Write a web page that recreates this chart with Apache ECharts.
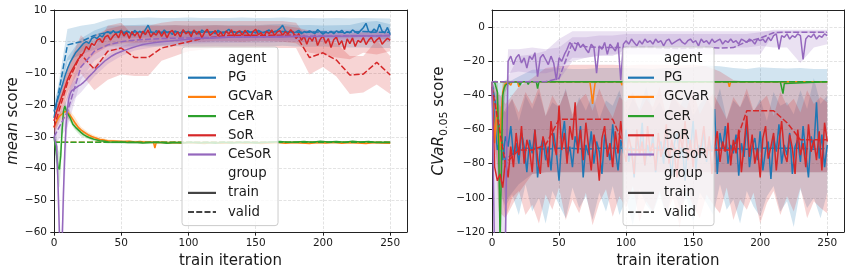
<!DOCTYPE html>
<html><head><meta charset="utf-8">
<script src="https://cdn.jsdelivr.net/npm/echarts@6/dist/echarts.min.js"></script>
<style>html,body{margin:0;padding:0;background:#fff}#c{width:854px;height:275px}</style>
</head><body><div id="c"></div>
<script>
// ---------- axes / ticks ----------
const X_TICKS = [0, 50, 100, 150, 200, 250];
const Y_L_TICKS = [-60, -50, -40, -30, -20, -10, 0, 10];
const Y_R_TICKS = [-120, -100, -80, -60, -40, -20, 0];
const LEGEND_LABELS = ['agent', 'PG', 'GCVaR', 'CeR', 'SoR', 'CeSoR', 'group', 'train', 'valid'];
const AGENTS = ['PG', 'GCVaR', 'CeR', 'SoR', 'CeSoR'];

// iteration grids (x positions of logged values)
const IT2 = Array.from({length: 126}, (_, i) => 2 * i);
const IT5 = Array.from({length: 51}, (_, i) => 5 * i);
const IT10 = Array.from({length: 26}, (_, i) => 10 * i);

// ================= LEFT: mean score =================
const PG_L_TRAIN = [
 -22,-19,-16.5,-14,-11,-8.5,-6.5,-5,-3.5,-2.5,
 -1.5,-0.5,0,-0.5,1,1.5,1,2,1.5,2.8,
 3.2,2.5,3.5,2.6,3.1,3.6,2.4,3.4,3,2.2,
 3.6,2.8,3.3,2.5,3.8,5.2,3.2,2.4,3.5,3,
 2.6,3.7,2.8,3.2,2.3,3.4,3,2.7,3.6,2.9,
 3.3,2.6,3.5,3.1,2.4,3.7,3,3.4,2.8,3.2,
 2.5,3.6,3,2.7,3.3,3.9,2.9,3.2,2.6,3.4,
 3,2.8,3.5,2.9,3.2,2.7,3.6,3.1,2.8,3.3,
 3.7,2.9,3.2,3.5,4.2,5.2,3.4,2.9,3.3,2.7,
 3.1,3.6,2.5,3.2,2.9,3.4,3,2.6,3.8,3.1,
 2.4,3,2.7,3.3,2.5,3.4,2.9,3.6,2.6,3.2,
 2.8,3.7,3.1,2.6,3.5,4.4,5.8,3.2,2.9,4,
 3.1,5.5,3.3,2.8,4.5,2.2];
const PG_L_TR_LO = [-25,-12,-3.5,-0.5,1,1.3,1.2,1.3,1.2,1.3,1.2,1.3,1.2,1.3,1.2,1.3,1.4,1.3,1.2,1.3,1.2,1.1,1.2,1.5,1.3,0.5];
const PG_L_TR_HI = [-19,-5,1,3.5,5,5.2,5.3,5.4,5.2,5.3,5.1,5.2,5.3,5.2,5.3,5.2,5.4,5.6,5.2,5.3,5.1,5.2,5.3,6.2,6.5,5.5];
const PG_L_VAL = [-24,-1,0,2,3,3,3.1,3,3,3.1,3,3,3.1,3,3,3.1,3,3.2,3,3,3.1,3,3,3.2,3,3];
const PG_L_VAL_LO = [-26,-6,-4,-2.5,-1.5,-1.5,-1.4,-1.5,-1.5,-1.4,-1.5,-1.5,-1.4,-1.5,-1.5,-1.4,-1.5,-1.3,-1.5,-1.6,-1.5,-1.7,-1.8,-1.8,-2,-2];
const PG_L_VAL_HI = [-22,4,5,5.7,7,7.5,7.5,7.6,7.5,7.5,7.6,7.5,7.5,7.5,7.6,7.5,7.5,7.6,7.5,7.5,7.4,7.5,7.4,7.5,7.4,7.3];

const GCV_L_X = [0,2,4,6,8,10,12,14,16,18,20,22,24,26,28,30,32,34,36,38,40,44,48,52,56,60,64,68,72,74,75,76,80,85,90,95,100,106,112,118,124,130,136,142,148,154,160,166,172,178,184,190,196,202,208,214,220,226,232,238,244,250];
const GCV_L_Y = [-27,-25,-23.5,-22.8,-22,-22.2,-23.2,-24.5,-25.8,-27,-27.8,-28.4,-29,-29.5,-29.9,-30.2,-30.5,-30.8,-30.9,-31.1,-31.2,-31.3,-31.4,-31.5,-31.4,-31.6,-31.5,-31.7,-31.6,-31.7,-33.5,-31.8,-31.7,-31.9,-31.8,-32,-31.8,-31.9,-32.1,-31.8,-32,-31.9,-31.7,-32,-31.8,-32.1,-31.9,-31.7,-32,-31.8,-31.9,-32.1,-31.8,-31.9,-31.7,-32,-31.8,-31.9,-32.1,-31.8,-31.9,-32];
const GCV_L_BX = [0,5,10,15,20,25,30,40,50,75,100,150,200,250];
const GCV_L_TR_LO = [-28.5,-25,-24,-26.5,-29,-30.3,-31,-31.7,-31.9,-32.2,-32.2,-32.2,-32.2,-32.2];
const GCV_L_TR_HI = [-25.5,-22,-20.8,-23.5,-26.8,-28.5,-29.6,-30.8,-31.1,-31.3,-31.4,-31.4,-31.4,-31.4];
const GCV_L_VAL = [-31.7,-31.7,-31.7,-31.7,-31.7,-31.7,-31.7,-31.7,-31.7,-31.7,-31.7,-31.7,-31.7,-31.7,-31.7,-31.7,-31.7,-31.7,-31.7,-31.7,-31.7,-31.7,-31.7,-31.7,-31.7,-31.7];

const CER_L_X = [0,1,2,3,4,5,6,7,8,9,10,12,14,16,18,20,22,24,26,28,30,32,34,36,38,40,45,50,55,60,66,72,78,84,90,96,102,108,114,120,126,132,138,144,150,156,162,168,174,180,186,192,198,204,210,216,222,228,234,240,246,250];
const CER_L_Y = [-30,-33,-36,-39.5,-40.3,-36,-28,-22,-20.3,-21.5,-22.5,-24,-26,-27,-27.8,-28.6,-29.3,-29.8,-30.2,-30.5,-30.8,-31,-31.2,-31.3,-31.4,-31.6,-31.7,-31.6,-31.8,-31.7,-31.9,-31.8,-31.7,-32,-31.8,-31.9,-31.7,-31.9,-31.8,-32,-31.7,-31.9,-31.8,-31.7,-31.9,-31.8,-31.6,-31.5,-31.7,-31.6,-31.5,-31.7,-31.4,-31.6,-31.5,-31.7,-31.4,-31.6,-31.5,-31.8,-31.7,-31.8];
const CER_L_BX = [0,2,3,4,5,6,8,10,15,20,30,40,60,100,150,200,250];
const CER_L_TR_LO = [-32,-41,-45,-46,-41,-31,-22,-24,-27.5,-29.8,-31.5,-32.1,-32.2,-32.2,-32.2,-32.2,-32.2];
const CER_L_TR_HI = [-28,-31,-34,-35,-31,-25,-18.5,-21,-25,-27.5,-30.2,-31.1,-31.3,-31.4,-31.4,-31.3,-31.4];
const CER_L_VAL = [-31.7,-31.7,-31.7,-31.7,-31.7,-31.7,-31.7,-31.7,-31.7,-31.7,-31.7,-31.7,-31.7,-31.7,-31.7,-31.7,-31.7,-31.7,-31.7,-31.7,-31.7,-31.7,-31.7,-31.7,-31.7,-31.7];

const SOR_L_TRAIN = [
 -25,-22,-19.5,-17,-14.5,-12,-10,-8.5,-7,-5.5,
 -4.5,-3.5,-1.5,-2.5,-0.5,-1.2,0.5,1,-0.3,1.5,
 2,0.5,1.8,2.6,1.2,3.5,1.8,3,1,3.2,
 1.8,3,1,3.3,2.2,3.7,1.5,2.8,2.1,3.5,
 1.7,3.2,1.2,3,3.6,1.9,3.1,1.4,3.8,2.5,
 3.1,1.6,3.7,2.3,3.3,1.2,3,3.9,2,2.7,
 3.5,1.8,3.1,1.5,3.4,2.4,3.8,1.7,3,3.4,
 2.1,3.6,2.6,1.6,3.2,3.9,2.2,2.9,1.4,3.3,
 2.5,3.7,1.9,3.1,3.5,2,3.2,2.4,3.8,2.8,
 1,2.6,0.4,1.8,-0.8,1.5,0.2,2.1,-1.2,0.8,
 1.9,-0.5,1,-1.8,0.6,1.5,-1,0.3,-2.5,0.9,
 -0.6,1.2,-1.5,0.4,-0.2,1.3,-0.9,0.5,1.4,-0.4,
 0.6,1.3,-0.8,0.2,1.1,0.4];
const SOR_L_TR_LO = [-29,-16,-8,-4,-1.5,-0.5,-0.5,-0.2,0,0,0.3,0,0.3,0.2,0,0.3,0.2,0,-0.5,-3.5,-4,-5,-5.5,-3.5,-4,-3];
const SOR_L_TR_HI = [-21,-8,-1,2,4,5,5,5,5,5.2,5,5,5.2,5,5,5,5.2,5,4.5,3.5,3,2.8,2.5,3,3.2,3];
const SOR_L_VAL = [-27,-13,-4,-8.7,-3,-2,-5,-5,-2,-1,0,1,1.5,2,2,2,2,2,2,-5,-3.5,-5.8,-10.5,-10.2,-6.5,-10.5];
const SOR_L_VAL_LO = [-30,-18,-10,-15.3,-12,-10.3,-10.8,-10.8,-6,-4.5,-3,-2.5,-2,-2,-2,-2,-2,-2,-2,-10.3,-8,-11,-16.5,-16,-13.5,-16.5];
const SOR_L_VAL_HI = [-24,-8,2,-2,5,6,1.5,5,6,6.5,6.5,6.5,6.5,6.5,6.5,6.5,6.5,6.5,6,0.3,1,-0.5,-4.5,-4.5,0.5,-4.5];

const CES_L_X = [0,1,2,3,4,5,6,7,8,9,10,11,12,13,14,16,18,20,22,24,26,28,30,32,34,36,38,40,43,46,50,54,58,62,66,70,74,80,86,92,98,105,112,120,130,140,150,160,170,180,190,200,210,220,230,240,250];
const CES_L_Y = [-30,-30,-33,-45,-60,-72,-64,-48,-35,-26,-21,-18,-16.5,-15.5,-15,-14.6,-14,-13.5,-12.8,-12,-11,-10.2,-9.3,-8.3,-7.6,-6.8,-6,-5.4,-4.5,-3.8,-3.1,-2.5,-1.9,-1.4,-0.9,-0.6,-0.3,0,0.2,0.5,0.7,0.9,1.1,1.2,1.4,1.5,1.5,1.6,1.5,1.7,1.6,1.8,1.7,1.8,1.9,1.8,1.9];
const CES_L_BX = [0,2,3,4,5,6,7,8,10,12,15,20,30,40,50,60,80,100,150,200,250];
const CES_L_TR_LO = [-33,-40,-55,-70,-80,-72,-60,-45,-27,-21,-18,-16,-11,-7,-4.5,-2.8,-1.3,-0.3,0.3,0.6,0.7];
const CES_L_TR_HI = [-27,-28,-36,-50,-64,-56,-40,-28,-17,-14,-12.5,-11,-7.5,-4,-1.5,0,1.2,2,2.7,3,3.1];
const CES_L_VAL = [-30,-22,-8,-3,-1,0,0.5,0.8,1,1.1,1.2,1.3,1.4,1.5,1.5,1.6,1.6,1.7,1.7,1.8,1.8,1.8,1.9,1.9,1.9,2];
const CES_L_VAL_LO = [-33,-27,-12,-6,-3.5,-2.2,-1.6,-1.2,-1,-0.8,-0.7,-0.6,-0.5,-0.4,-0.4,-0.3,-0.3,-0.2,-0.2,-0.1,-0.1,-0.1,0,0,0,0.1];
const CES_L_VAL_HI = [-27,-17,-4,0,1.5,2.2,2.6,2.8,3,3,3.1,3.2,3.3,3.4,3.4,3.5,3.5,3.6,3.6,3.7,3.7,3.7,3.8,3.8,3.8,3.9];

// ================= RIGHT: CVaR_0.05 score =================
const PG_R_TRAIN = [
 -32,-55,-72,-66,-78,-64,-70,-58,-75,-68,
 -80,-62,-70,-85,-66,-74,-60,-88,-72,-65,
 -78,-70,-84,-62,-73,-90,-66,-55,-76,-70,
 -82,-64,-71,-58,-88,-69,-75,-61,-80,-67,
 -73,-86,-63,-70,-78,-57,-72,-84,-66,-74,
 -60,-79,-70,-88,-65,-73,-56,-81,-69,-76,
 -63,-85,-71,-67,-80,-59,-74,-87,-68,-62,
 -77,-70,-90,-64,-72,-55,-83,-69,-75,-61,
 -79,-66,-73,-48,-86,-62,-71,-58,-80,-69,
 -74,-63,-87,-68,-76,-56,-82,-70,-65,-78,
 -61,-84,-72,-67,-89,-64,-73,-57,-80,-69,
 -75,-62,-86,-70,-66,-79,-58,-74,-88,-64,
 -71,-44,-77,-63,-82,-69];
const PG_R_TR_LO = [-40,-95,-105,-98,-110,-92,-108,-100,-115,-96,-104,-112,-94,-106,-99,-113,-97,-108,-93,-110,-101,-116,-95,-104,-109,-98,-111,-94,-106,-100,-114,-97,-103,-110,-92,-107,-101,-115,-96,-105,-111,-99,-93,-108,-102,-117,-95,-106,-100,-112,-97];
const PG_R_TR_HI = [-30,-45,-50,-42,-55,-40,-48,-38,-52,-44,-47,-36,-53,-41,-49,-39,-54,-43,-46,-37,-51,-42,-48,-35,-50,-44,-53,-40,-47,-38,-52,-45,-41,-49,-36,-54,-43,-47,-39,-50,-42,-55,-38,-46,-44,-51,-37,-48,-30,-45,-40];
const PG_R_VAL = [-33,-78,-71,-71,-71.5,-71,-71,-71.5,-71,-71,-71,-71.5,-71,-71,-71,-71.5,-71,-71,-71,-71.5,-71,-71,-71,-71,-71.5,-71];
const PG_R_VAL_LO = [-40,-102,-92,-86,-85,-85,-85,-85,-85,-85,-85,-85,-85,-85,-85,-85,-85,-85,-85,-85,-85,-85,-85,-85,-85,-85];
const PG_R_VAL_HI = [-32,-33,-29,-25,-24.5,-24,-24.5,-24.5,-24,-24,-24,-24.3,-24.5,-24,-24,-23.5,-22.5,-23,-24,-24.5,-23.5,-24,-24.2,-24,-24.5,-24.5];

const GCV_R_X = [0,1,2,3,4,5,6,7,8,9,10,12,14,15,19,20,21,26,27,28,40,73,74,75,76,77,96,97,98,176,177,178,250];
const GCV_R_Y = [-32,-50,-68,-55,-45,-60,-72,-50,-38,-35,-33,-32.5,-34,-32,-32,-35,-32,-32,-33,-32,-32,-32,-38,-45,-38,-32,-32,-34,-32,-32,-35,-32,-32];
const GCV_R_BX = [0,2,4,6,8,10,12,20];
const GCV_R_TR_LO = [-32,-85,-65,-90,-55,-38,-33,-32.3];
const GCV_R_TR_HI = [-32,-50,-32,-52,-32,-32,-32,-31.7];
const GCV_R_VAL = [-32,-32,-32,-32,-32,-32,-32,-32,-32,-32,-32,-32,-32,-32,-32,-32,-32,-32,-32,-32,-32,-32,-32,-32,-32,-32];

const CER_R_X = [0,2,4,5,6,7,8,9,10,12,14,16,20,21,22,26,27,28,33,34,35,40,60,90,120,150,180,215,216,217,218,219,250];
const CER_R_Y = [-32,-32.5,-38,-70,-125,-125,-40,-36,-34,-33,-32.2,-32,-32.3,-34,-32,-32,-33.5,-32,-32,-36,-32,-32,-32,-32,-32,-32,-32,-32,-33,-39,-33,-32,-32];
const CER_R_BX = [0,3,4,5,6,7,8,10,14];
const CER_R_TR_LO = [-32,-34,-50,-100,-130,-130,-55,-38,-32.5];
const CER_R_TR_HI = [-32,-31,-32,-45,-100,-110,-32,-31,-31.5];
const CER_R_VAL = [-32,-32,-32,-32,-32,-32,-32,-32,-32,-32,-32,-32,-32,-32,-32,-32,-32,-32,-32,-32,-32,-32,-32,-32,-32,-32];

const SOR_R_TRAIN = [
 -35,-82,-90,-86,-94,-78,-88,-70,-82,-62,
 -75,-58,-80,-66,-72,-85,-60,-77,-86,-64,
 -70,-82,-55,-68,-75,-46,-72,-62,-80,-58,
 -66,-44,-74,-60,-78,-56,-70,-84,-63,-72,
 -90,-65,-58,-76,-68,-82,-61,-74,-55,-70,
 -79,-64,-72,-86,-60,-75,-67,-81,-58,-73,
 -68,-84,-62,-76,-70,-57,-80,-66,-74,-88,
 -63,-71,-55,-78,-66,-82,-60,-75,-69,-58,
 -77,-64,-86,-70,-61,-79,-67,-73,-56,-81,
 -66,-74,-60,-85,-69,-52,-76,-63,-80,-71,
 -88,-65,-58,-77,-70,-62,-84,-68,-55,-74,
 -79,-63,-71,-86,-60,-75,-68,-82,-57,-73,
 -66,-78,-61,-84,-56,-67];
const SOR_R_TR_LO = [-45,-108,-112,-100,-96,-110,-104,-115,-98,-107,-94,-113,-101,-109,-97,-116,-103,-95,-111,-99,-106,-93,-114,-102,-108,-96,-110,-100,-117,-95,-105,-112,-98,-104,-109,-94,-113,-101,-107,-97,-115,-103,-96,-110,-99,-108,-94,-112,-102,-106,-109];
const SOR_R_TR_HI = [-30,-55,-48,-42,-50,-38,-45,-35,-52,-40,-47,-37,-51,-43,-39,-49,-36,-46,-53,-41,-44,-38,-50,-42,-47,-35,-52,-40,-45,-48,-37,-51,-43,-39,-46,-54,-41,-47,-36,-49,-44,-40,-52,-38,-46,-42,-50,-37,-45,-41,-44];
const SOR_R_VAL = [-35,-80,-72,-72,-69,-54,-54,-54,-54,-54,-72,-72,-72,-72,-72,-72,-72,-72,-72,-49,-49,-49,-56,-66,-66,-66];
const SOR_R_VAL_LO = [-60,-112,-97,-86,-85,-85,-85,-85,-85,-85,-85,-85,-85,-85,-85,-85,-85,-85,-85,-85,-85,-85,-85,-85,-85,-85];
const SOR_R_VAL_HI = [-32,-45,-35,-30,-24,-23,-22,-22,-22,-22,-22.5,-22,-22,-22,-22.5,-22,-23,-26,-31,-32,-32,-32,-32,-32,-32,-32];

const CES_R_TRAIN = [
 -32,-140,-140,-140,-140,-125,-20,-17,-22,-18,
 -16,-21,-18,-24,-17,-19,-15,-29,-18,-16,
 -19,-22,-17,-21,-31,-18,-20,-16,-13,-9,
 -11,-14,-9,-12,-10,-13,-15,-10,-12,-27,
 -11,-13,-9,-16,-10,-12,-14,-9,-31,-10,
 -8,-10,-7,-9,-11,-8,-10,-7,-9,-8,
 -10,-7,-9,-8,-11,-8,-7,-10,-9,-8,
 -7,-9,-10,-8,-7,-9,-8,-11,-7,-9,
 -8,-10,-7,-9,-8,-7,-10,-8,-9,-7,
 -9,-8,-10,-7,-8,-9,-7,-8,-10,-7,
 -8,-7,-9,-6,-8,-5,-4,-13,-5,-6,
 -4,-7,-5,-6,-4,-5,-19,-7,-5,-6,
 -4,-7,-5,-6,-4,-5];
const CES_R_BX = [0,2,9,11,12,20,30,40,50,60,70,80,90,100,110,120,130,140,150,160,170,180,190,200,210,220,230,240,250];
const CES_R_TR_LO = [-32,-140,-140,-125,-27,-26,-27,-27,-25,-18,-18,-17,-17,-13,-12,-12,-12,-12,-12,-12,-12,-12,-12,-11,-12,-12,-21,-12,-10];
const CES_R_TR_HI = [-32,-40,-40,-30,-13,-13,-12,-13,-12,-6,-6,-5,-5,-4,-4,-4,-4,-4,-4,-4,-4,-4,-4,-3,-1.5,-1.5,-1.5,-1.5,-1.5];
const CES_R_VAL = [-32,-32,-32,-32,-32,-30,-9,-11.5,-12,-12,-12,-12,-12,-12.3,-12.5,-12.3,-12,-12.3,-12,-8.5,-6.5,-3.3,-3,-3,-3,-3];
const CES_R_VAL_LO = [-32,-32,-32,-32,-32,-31,-20,-18,-16.5,-16,-16,-16,-16,-16,-16,-16,-16,-16,-16,-16,-16,-4,-3.5,-3.5,-3.5,-3.5];
const CES_R_VAL_HI = [-32,-32,-17,-16,-14,-7,-2.5,-2.5,-2.5,-2.5,-2.5,-2.5,-2.5,-2.5,-2.5,-2.5,-2.5,-2.5,-2.5,-2.5,-2.5,-2.5,-2.3,-2.3,-2.3,-2.3];

// ---------- styling ----------
const FONT = 'DejaVu Sans';
const INK = '#1a1a1a';
const SPINE = '#222222';
const COLOR = {PG: '#1f77b4', GCVaR: '#ff7f0e', CeR: '#2ca02c', SoR: '#d62728', CeSoR: '#9467bd'};
const GROUP_GRAY = '#444444';
const DASH = [6, 2.25];

function zip(xs, ys) {
  const n = Math.min(xs.length, ys.length), out = [];
  for (let i = 0; i < n; i++) out.push([xs[i], ys[i]]);
  return out;
}
function rgba(hex, a) {
  const n = parseInt(hex.slice(1), 16);
  return 'rgba(' + ((n >> 16) & 255) + ',' + ((n >> 8) & 255) + ',' + (n & 255) + ',' + a + ')';
}
function line(xs, ys, color, dashed, ax) {
  return {type: 'line', xAxisIndex: ax, yAxisIndex: ax, data: zip(xs, ys), symbol: 'none', showSymbol: false,
    lineStyle: {color: color, width: 1.5, type: dashed ? DASH : 'solid'}, itemStyle: {color: color},
    silent: true, z: 3, clip: true, emphasis: {disabled: true}};
}
// confidence band: one polygon through (x, hi) forward and (x, lo) backward, placed by the axes' scales
function band(xs, lo, hi, color, ax) {
  const n = Math.min(xs.length, lo.length, hi.length), pts = [];
  for (let i = 0; i < n; i++) pts.push([xs[i], lo[i], hi[i]]);
  return {type: 'custom', xAxisIndex: ax, yAxisIndex: ax, data: pts, encode: {x: 0, y: [1, 2]},
    silent: true, z: 1, animation: false,
    renderItem: function (params, api) {
      if (params.dataIndex !== 0) return null;
      const poly = [];
      for (let i = 0; i < pts.length; i++) poly.push(api.coord([pts[i][0], pts[i][2]]));
      for (let i = pts.length - 1; i >= 0; i--) poly.push(api.coord([pts[i][0], pts[i][1]]));
      const cs = params.coordSys;
      return {type: 'polygon', shape: {points: poly}, style: {fill: rgba(color, 0.2), stroke: null},
        clipPath: {type: 'rect', shape: {x: cs.x, y: cs.y, width: cs.width, height: cs.height}}};
    }};
}
const fmt = v => String(v).replace('-', '\u2212');

const series = [
  band(IT10, PG_L_TR_LO, PG_L_TR_HI, COLOR.PG, 0),
  band(IT10, PG_L_VAL_LO, PG_L_VAL_HI, COLOR.PG, 0),
  band(GCV_L_BX, GCV_L_TR_LO, GCV_L_TR_HI, COLOR.GCVaR, 0),
  band(CER_L_BX, CER_L_TR_LO, CER_L_TR_HI, COLOR.CeR, 0),
  band(IT10, SOR_L_TR_LO, SOR_L_TR_HI, COLOR.SoR, 0),
  band(IT10, SOR_L_VAL_LO, SOR_L_VAL_HI, COLOR.SoR, 0),
  band(CES_L_BX, CES_L_TR_LO, CES_L_TR_HI, COLOR.CeSoR, 0),
  band(IT10, CES_L_VAL_LO, CES_L_VAL_HI, COLOR.CeSoR, 0),
  band(IT5, PG_R_TR_LO, PG_R_TR_HI, COLOR.PG, 1),
  band(IT10, PG_R_VAL_LO, PG_R_VAL_HI, COLOR.PG, 1),
  band(GCV_R_BX, GCV_R_TR_LO, GCV_R_TR_HI, COLOR.GCVaR, 1),
  band(CER_R_BX, CER_R_TR_LO, CER_R_TR_HI, COLOR.CeR, 1),
  band(IT5, SOR_R_TR_LO, SOR_R_TR_HI, COLOR.SoR, 1),
  band(IT10, SOR_R_VAL_LO, SOR_R_VAL_HI, COLOR.SoR, 1),
  band(CES_R_BX, CES_R_TR_LO, CES_R_TR_HI, COLOR.CeSoR, 1),
  band(IT10, CES_R_VAL_LO, CES_R_VAL_HI, COLOR.CeSoR, 1),

  line(IT2, PG_L_TRAIN, COLOR.PG, false, 0),
  line(IT10, PG_L_VAL, COLOR.PG, true, 0),
  line(GCV_L_X, GCV_L_Y, COLOR.GCVaR, false, 0),
  line(IT10, GCV_L_VAL, COLOR.GCVaR, true, 0),
  line(CER_L_X, CER_L_Y, COLOR.CeR, false, 0),
  line(IT10, CER_L_VAL, COLOR.CeR, true, 0),
  line(IT2, SOR_L_TRAIN, COLOR.SoR, false, 0),
  line(IT10, SOR_L_VAL, COLOR.SoR, true, 0),
  line(CES_L_X, CES_L_Y, COLOR.CeSoR, false, 0),
  line(IT10, CES_L_VAL, COLOR.CeSoR, true, 0),
  line(IT2, PG_R_TRAIN, COLOR.PG, false, 1),
  line(IT10, PG_R_VAL, COLOR.PG, true, 1),
  line(GCV_R_X, GCV_R_Y, COLOR.GCVaR, false, 1),
  line(IT10, GCV_R_VAL, COLOR.GCVaR, true, 1),
  line(CER_R_X, CER_R_Y, COLOR.CeR, false, 1),
  line(IT10, CER_R_VAL, COLOR.CeR, true, 1),
  line(IT2, SOR_R_TRAIN, COLOR.SoR, false, 1),
  line(IT10, SOR_R_VAL, COLOR.SoR, true, 1),
  line(IT2, CES_R_TRAIN, COLOR.CeSoR, false, 1),
  line(IT10, CES_R_VAL, COLOR.CeSoR, true, 1)
];
// legend-only entries
LEGEND_LABELS.forEach(n => series.push({type: 'line', name: n, data: [], xAxisIndex: 0, yAxisIndex: 0, symbol: 'none'}));

const DASH_ICON = 'path://M0,0h6v2h-6z M8.25,0h6v2h-6z M16.5,0h6v2h-6z M24.75,0h3.25v2h-3.25z';
function legendData() {
  return LEGEND_LABELS.map(n => {
    if (n === 'agent' || n === 'group') return {name: n, icon: 'none', itemStyle: {color: 'rgba(0,0,0,0)'}};
    if (n === 'train') return {name: n, icon: 'rect', itemStyle: {color: GROUP_GRAY}};
    if (n === 'valid') return {name: n, icon: DASH_ICON, itemStyle: {color: GROUP_GRAY}};
    return {name: n, icon: 'rect', itemStyle: {color: COLOR[n]}};
  });
}
function legend(left, itemW, textPad, padL) {
  return {orient: 'vertical', left: left, top: 47, itemWidth: itemW, itemHeight: 2.2, itemGap: 4.2,
    padding: [4, 5, 6, padL], backgroundColor: 'rgba(255,255,255,0.8)', borderColor: '#cccccc', borderWidth: 1,
    borderRadius: 3, selectedMode: false, itemStyle: {borderWidth: 0},
    textStyle: {fontFamily: FONT, fontSize: 13.3, color: INK, lineHeight: 15, padding: [0, 0, 0, textPad]},
    data: legendData()};
}

function xAxis(i) {
  return {type: 'value', gridIndex: i, min: 0, max: 262.5, interval: 50,
    name: 'train iteration', nameLocation: 'middle', nameGap: 21,
    nameTextStyle: {fontFamily: FONT, fontSize: 15, color: INK},
    axisLine: {show: true, onZero: false, lineStyle: {color: SPINE, width: 1}},
    axisTick: {show: true, length: 3.7, customValues: X_TICKS, lineStyle: {color: SPINE, width: 1}},
    axisLabel: {fontFamily: FONT, fontSize: 10.5, color: INK, margin: 6,
      formatter: v => X_TICKS.includes(v) ? fmt(v) : ''},
    splitLine: {show: true, lineStyle: {color: '#e3e3e3', width: 1, type: [3, 1.5]}}};
}
function yAxis(i, min, max, interval, ticks, name, gap, rich) {
  return {type: 'value', gridIndex: i, min: min, max: max, interval: interval,
    name: name, nameLocation: 'middle', nameGap: gap,
    nameTextStyle: {fontFamily: FONT, fontSize: 15, color: INK, rich: rich},
    axisLine: {show: true, onZero: false, lineStyle: {color: SPINE, width: 1}},
    axisTick: {show: true, length: 3.7, customValues: ticks, lineStyle: {color: SPINE, width: 1}},
    axisLabel: {fontFamily: FONT, fontSize: 10.5, color: INK, margin: 7,
      formatter: v => ticks.includes(v) ? fmt(v) : ''},
    splitLine: {show: true, lineStyle: {color: '#e3e3e3', width: 1, type: [3, 1.5]}}};
}
// top / right spines (frame only, drawn above the dashed grid)
function spine(kind, i, min, max) {
  return {type: 'value', gridIndex: i, min: min, max: max, position: kind, z: 5,
    axisLine: {show: true, onZero: false, lineStyle: {color: SPINE, width: 1}},
    axisTick: {show: false}, axisLabel: {show: false}, splitLine: {show: false}};
}

const richL = {it: {fontFamily: FONT, fontSize: 15, fontStyle: 'italic', color: INK, lineHeight: 15},
               n: {fontFamily: FONT, fontSize: 15, color: INK, lineHeight: 15}};
const richR = {it: {fontFamily: FONT, fontSize: 15, fontStyle: 'italic', color: INK, lineHeight: 15, verticalAlign: 'top'},
               n: {fontFamily: FONT, fontSize: 15, color: INK, lineHeight: 15, verticalAlign: 'top'},
               sub: {fontFamily: FONT, fontSize: 11, color: INK, height: 11, padding: [7, 0, 0, 0], verticalAlign: 'bottom'}};

const chart = echarts.init(document.getElementById('c'), null, {renderer: 'canvas'});
chart.setOption({
  animation: false,
  backgroundColor: '#ffffff',
  grid: [
    {left: 54, top: 10, width: 353, height: 222, show: false},
    {left: 492, top: 10, width: 352, height: 222, show: false}
  ],
  xAxis: [xAxis(0), xAxis(1), spine('top', 0, 0, 262.5), spine('top', 1, 0, 262.5)],
  yAxis: [
    yAxis(0, -60, 10, 10, Y_L_TICKS, '{it|mean}{n| score}', 33, richL),
    yAxis(1, -120, 10, 20, Y_R_TICKS, '{it|CVaR}{sub|0.05}{n| score}', 42, richR),
    spine('right', 0, -60, 10), spine('right', 1, -120, 10)
  ],
  legend: [legend(182, 28, 7, 6), legend(623, 26, 5, 5)],
  series: series
});
</script>
</body></html>
